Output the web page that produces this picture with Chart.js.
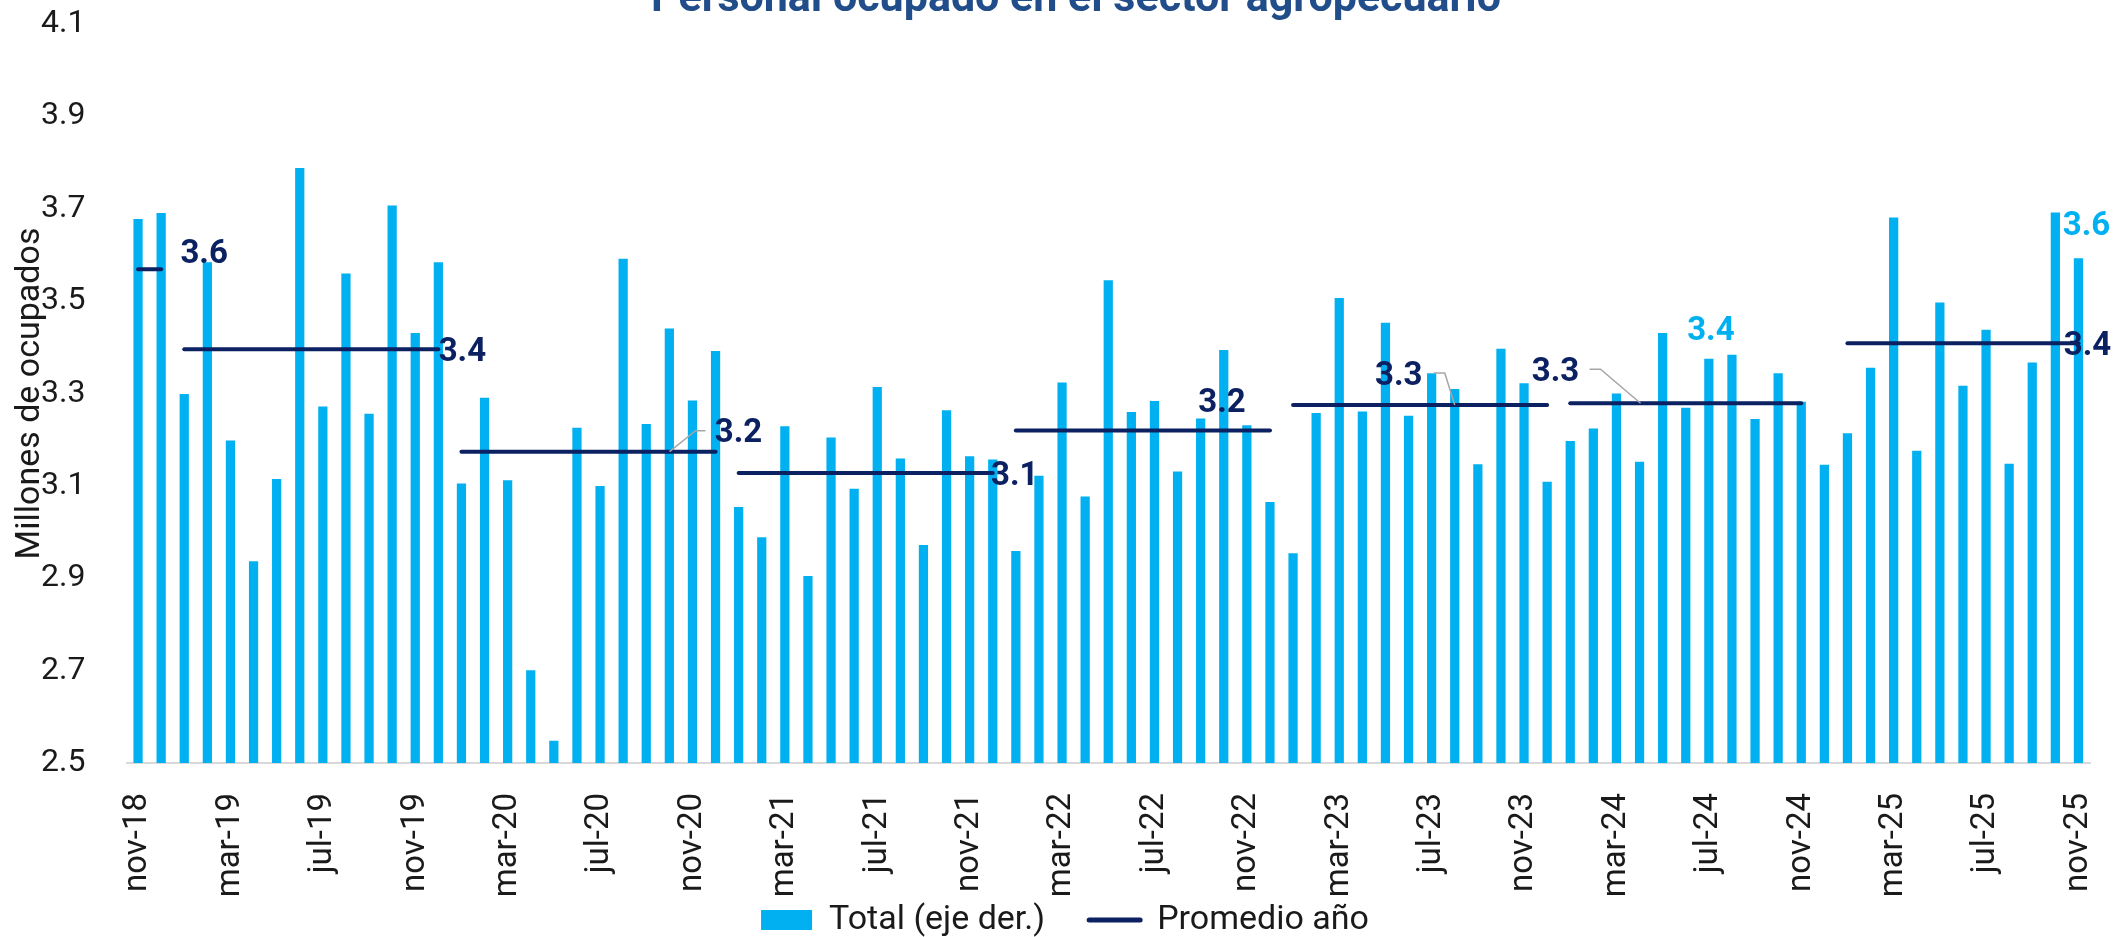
<!DOCTYPE html>
<html lang="es">
<head>
<meta charset="UTF-8">
<title>Personal ocupado en el sector agropecuario</title>
<style>
  html, body { margin: 0; padding: 0; background: #fff; }
  #chart { display: block; }
</style>
</head>
<body>
<canvas id="chart" width="2115" height="937"></canvas>
<script src="https://cdn.jsdelivr.net/npm/chart.js"></script>
<script>
// --- datos (millones de ocupados) ---
const months = [
  'nov-18','dic-18',
  'ene-19','feb-19','mar-19','abr-19','may-19','jun-19','jul-19','ago-19','sep-19','oct-19','nov-19','dic-19',
  'ene-20','feb-20','mar-20','abr-20','may-20','jun-20','jul-20','ago-20','sep-20','oct-20','nov-20','dic-20',
  'ene-21','feb-21','mar-21','abr-21','may-21','jun-21','jul-21','ago-21','sep-21','oct-21','nov-21','dic-21',
  'ene-22','feb-22','mar-22','abr-22','may-22','jun-22','jul-22','ago-22','sep-22','oct-22','nov-22','dic-22',
  'ene-23','feb-23','mar-23','abr-23','may-23','jun-23','jul-23','ago-23','sep-23','oct-23','nov-23','dic-23',
  'ene-24','feb-24','mar-24','abr-24','may-24','jun-24','jul-24','ago-24','sep-24','oct-24','nov-24','dic-24',
  'ene-25','feb-25','mar-25','abr-25','may-25','jun-25','jul-25','ago-25','sep-25','oct-25','nov-25'
];

const total = [
  3.678, 3.691,
  3.299, 3.584, 3.198, 2.937, 3.115, 3.788, 3.272, 3.560, 3.256, 3.707, 3.431, 3.584,
  3.105, 3.291, 3.112, 2.701, 2.548, 3.226, 3.100, 3.592, 3.234, 3.441, 3.285, 3.392,
  3.054, 2.989, 3.229, 2.905, 3.205, 3.094, 3.314, 3.159, 2.972, 3.264, 3.164, 3.157,
  2.959, 3.122, 3.324, 3.077, 3.545, 3.260, 3.284, 3.131, 3.246, 3.394, 3.231, 3.065,
  2.954, 3.258, 3.507, 3.261, 3.453, 3.252, 3.344, 3.310, 3.147, 3.397, 3.322, 3.109,
  3.197, 3.224, 3.300, 3.152, 3.431, 3.269, 3.375, 3.384, 3.245, 3.344, 3.282, 3.146,
  3.214, 3.356, 3.681, 3.176, 3.497, 3.317, 3.438, 3.148, 3.367, 3.692, 3.593
];

// promedio anual: valor y tramo de meses que cubre la línea
const avgValues = [3.569, 3.396, 3.174, 3.128, 3.220, 3.275, 3.279, 3.409];
const avgFrom   = ['nov-18','ene-19','ene-20','ene-21','ene-22','ene-23','ene-24','ene-25'];
const avgTo     = ['dic-18','dic-19','dic-20','dic-21','dic-22','dic-23','nov-24','nov-25'];

const tickLabels = [
  'nov-18','mar-19','jul-19','nov-19','mar-20','jul-20','nov-20','mar-21','jul-21','nov-21','mar-22',
  'jul-22','nov-22','mar-23','jul-23','nov-23','mar-24','jul-24','nov-24','mar-25','jul-25','nov-25'
];

const NAVY = '#0b2161';
const CYAN = '#00b0f0';
const TEXT = '#1a1a1a';

// serie de la línea (null fuera de cada tramo) y grupo de año por punto
const avgLine = months.map(() => null);
const avgGroup = months.map(() => -1);
avgValues.forEach((v, k) => {
  const a = months.indexOf(avgFrom[k]), b = months.indexOf(avgTo[k]);
  for (let i = a; i <= b; i++) { avgLine[i] = v; avgGroup[i] = k; }
});

// etiquetas de datos: posición relativa al punto (px)
const notes = [
  { year: 0, at: 1,  dx: 43,  dy: -18 },
  { year: 1, at: 13, dx: 24,  dy: 0 },
  { year: 2, at: 25, dx: 23,  dy: -21, leader: [[-46, 0], [-20, -21], [-10, -21]] },
  { year: 3, at: 37, dx: 22,  dy: 0 },
  { year: 4, at: 49, dx: -48, dy: -30 },
  { year: 5, at: 57, dx: -56, dy: -32, leader: [[0, 0], [-10, -32], [-21, -32]] },
  { year: 6, at: 65, dx: -84, dy: -34, leader: [[1, 0], [-39, -34], [-50, -34]] },
  { year: 7, at: 84, dx: 9,   dy: 0 },
  { at: 68, dx: 2, dy: -31 },
  { at: 84, dx: 8, dy: -35 }
];

const valueLabels = {
  id: 'valueLabels',
  afterLayout(chart) {
    // que las etiquetas del eje x no se recorten bajo la leyenda
    chart.scales.x.bottom = chart.height;
    // leyenda algo corrida a la derecha, como en el original
    chart.legend.left += 40;
  },
  afterDatasetsDraw(chart) {
    const { ctx, scales: { x, y } } = chart;
    const size = 33;
    ctx.save();
    ctx.font = 'bold ' + size + 'px Roboto';
    ctx.textAlign = 'center';
    ctx.textBaseline = 'alphabetic';
    notes.forEach(n => {
      const isAvg = n.year !== undefined;
      const v = isAvg ? avgValues[n.year] : total[n.at];
      const px = x.getPixelForValue(n.at);
      const py = y.getPixelForValue(v);
      if (n.leader) {
        ctx.strokeStyle = '#a6a6a6';
        ctx.lineWidth = 1.5;
        ctx.beginPath();
        n.leader.forEach(([lx, ly], k) => k ? ctx.lineTo(px + lx, py + ly) : ctx.moveTo(px + lx, py + ly));
        ctx.stroke();
      }
      ctx.fillStyle = isAvg ? NAVY : CYAN;
      ctx.fillText(v.toFixed(1), px + n.dx, py + n.dy + 0.355 * size);
    });
    ctx.restore();
  }
};

// título recortado en el borde superior, como en la imagen
const cutTitle = {
  id: 'cutTitle',
  afterDraw(chart) {
    const ctx = chart.ctx;
    ctx.save();
    ctx.font = 'bold 43px Roboto';
    ctx.fillStyle = '#214d8a';
    ctx.textAlign = 'center';
    ctx.textBaseline = 'alphabetic';
    ctx.fillText('Personal ocupado en el sector agropecuario', 1076, 11);
    ctx.restore();
  }
};

Chart.defaults.font.family = 'Roboto';

new Chart(document.getElementById('chart'), {
  data: {
    labels: months,
    datasets: [
      {
        type: 'bar',
        label: 'Total (eje der.)',
        data: total,
        backgroundColor: CYAN,
        barPercentage: 0.4,
        categoryPercentage: 1,
        order: 1
      },
      {
        type: 'line',
        label: 'Promedio año',
        data: avgLine,
        borderColor: NAVY,
        borderWidth: 4,
        borderCapStyle: 'round',
        pointRadius: 0,
        spanGaps: false,
        order: 0,
        segment: {
          borderColor: c => avgGroup[c.p0DataIndex] === avgGroup[c.p1DataIndex] ? NAVY : 'rgba(0,0,0,0)'
        }
      }
    ]
  },
  options: {
    responsive: false,
    animation: false,
    layout: { padding: { top: 24, right: 25, bottom: -10, left: 0 } },
    scales: {
      x: {
        grid: { display: false },
        border: { display: true, color: '#d9d9d9', width: 2 },
        ticks: {
          autoSkip: false,
          minRotation: 90,
          maxRotation: 90,
          padding: 22,
          color: TEXT,
          font: { size: 33 },
          callback: (v, i) => tickLabels.includes(months[i]) ? months[i] : ''
        },
        afterFit: s => { s.height = 96; s.paddingLeft = 0; s.paddingRight = 0; }
      },
      y: {
        min: 2.5,
        max: 4.1,
        grid: { display: false },
        border: { display: false },
        ticks: {
          stepSize: 0.2,
          padding: 33,
          color: TEXT,
          font: { size: 32 },
          callback: v => v.toFixed(1)
        },
        title: {
          display: true,
          text: 'Millones de ocupados',
          color: TEXT,
          font: { size: 34 },
          padding: { top: 10, bottom: 0 }
        },
        afterFit: s => { s.width = 126.5; s.paddingTop = 0; s.paddingBottom = 0; }
      }
    },
    plugins: {
      tooltip: { enabled: false },
      legend: {
        position: 'bottom',
        labels: {
          usePointStyle: true,
          pointStyleWidth: 51,
          boxHeight: 20,
          padding: 44,
          color: TEXT,
          font: { size: 34 },
          sort: (a, b) => a.datasetIndex - b.datasetIndex,
          generateLabels: chart => {
            const items = Chart.defaults.plugins.legend.labels.generateLabels(chart);
            items.forEach(it => {
              if (it.datasetIndex === 0) {
                it.pointStyle = 'rect'; it.lineWidth = 0; it.fillStyle = CYAN;
              } else {
                it.pointStyle = 'line'; it.strokeStyle = NAVY; it.lineWidth = 5; it.lineCap = 'round';
              }
            });
            return items;
          }
        }
      }
    }
  },
  plugins: [valueLabels, cutTitle]
});
</script>
</body>
</html>
